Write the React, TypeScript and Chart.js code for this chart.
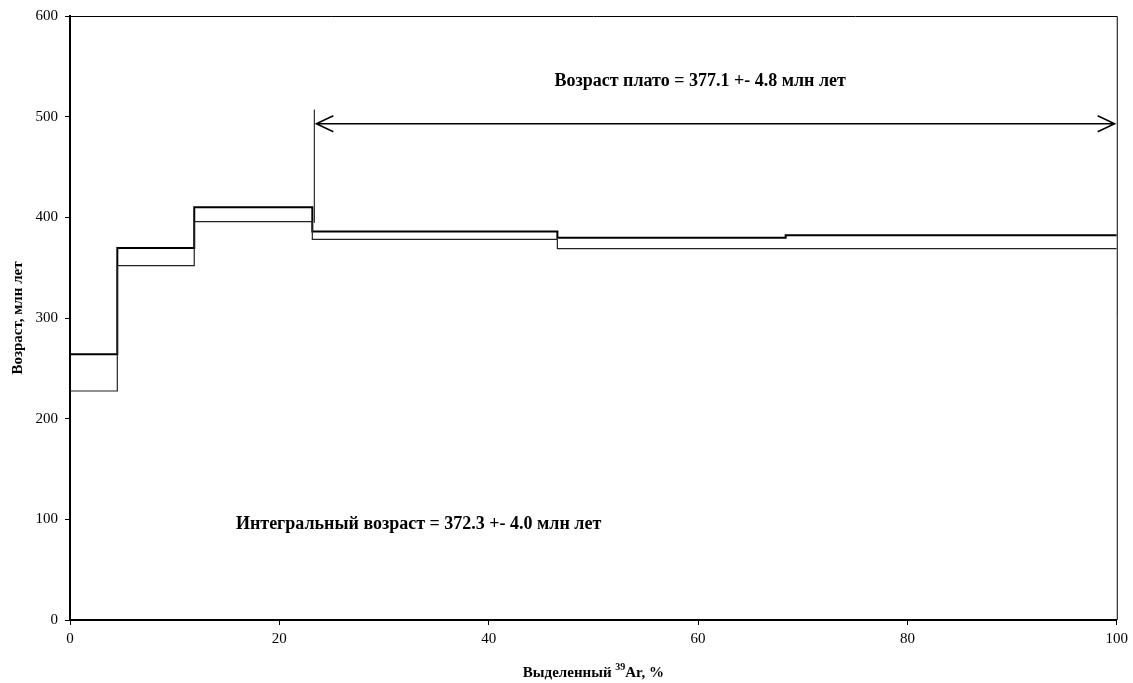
import React, { useEffect, useRef } from "react";
import { Chart, registerables } from "chart.js";

Chart.register(...registerables);

// Step boundaries (cumulative 39Ar released, %)
const stepBounds = [0, 4.52, 11.87, 23.15, 46.56, 68.37, 100];
// Upper (age + error) and lower (age - error) values for each step, Ma
const upperAges = [264, 369.5, 410, 386, 379.8, 382.2];
const lowerAges = [227.5, 352, 395.7, 378.2, 368.9, 368.9];

const xTicks = [0, 20, 40, 60, 80, 100];
const yTicks = [0, 100, 200, 300, 400, 500, 600];

const plateauText = "Возраст плато = 377.1 +- 4.8 млн лет";
const integralText = "Интегральный возраст = 372.3 +- 4.0 млн лет";
const yTitle = "Возраст, млн лет";
const xTitleA = "Выделенный ";
const xTitleSup = "39";
const xTitleB = "Ar, %";

// plateau marker (data units)
const plateauStart = 23.34;
const plateauEnd = 99.8;
const plateauArrowY = 493;
const plateauLineTop = 507;
const plateauLineBottom = 394.5;
const plateauTextPos = { x: 60.2, y: 535.4 };
const integralTextPos = { x: 33.3, y: 95.4 };

const FONT = "'Liberation Serif', 'Times New Roman', serif";

function stepPoints(vals: number[]) {
  const pts: { x: number; y: number }[] = [];
  for (let i = 0; i < vals.length; i++) {
    pts.push({ x: stepBounds[i], y: vals[i] });
    pts.push({ x: stepBounds[i + 1], y: vals[i] });
  }
  return pts;
}

const decorPlugin = {
  id: "decor",
  afterDatasetsDraw(chart: any) {
    const { ctx, chartArea, scales } = chart;
    const xs = scales.x;
    const ys = scales.y;
    ctx.save();
    // frame (top/right)
    ctx.strokeStyle = "#000";
    ctx.lineWidth = 1;
    ctx.beginPath();
    ctx.moveTo(chartArea.left, chartArea.top + 0.5);
    ctx.lineTo(chartArea.right + 0.5, chartArea.top + 0.5);
    ctx.lineTo(chartArea.right + 0.5, chartArea.bottom);
    ctx.stroke();

    // plateau vertical line
    const vx = xs.getPixelForValue(plateauStart);
    ctx.lineWidth = 1;
    ctx.beginPath();
    ctx.moveTo(vx, ys.getPixelForValue(plateauLineTop));
    ctx.lineTo(vx, ys.getPixelForValue(plateauLineBottom));
    ctx.stroke();

    // double-headed arrow
    const ay = ys.getPixelForValue(plateauArrowY);
    const ax1 = xs.getPixelForValue(plateauStart) + 2;
    const ax2 = xs.getPixelForValue(plateauEnd);
    ctx.lineWidth = 1.5;
    ctx.beginPath();
    ctx.moveTo(ax1, ay);
    ctx.lineTo(ax2, ay);
    ctx.moveTo(ax1 + 17, ay - 8);
    ctx.lineTo(ax1, ay);
    ctx.lineTo(ax1 + 17, ay + 8);
    ctx.moveTo(ax2 - 17, ay - 8);
    ctx.lineTo(ax2, ay);
    ctx.lineTo(ax2 - 17, ay + 8);
    ctx.stroke();

    // annotations
    ctx.fillStyle = "#000";
    ctx.font = `bold 18px ${FONT}`;
    ctx.textAlign = "center";
    ctx.textBaseline = "middle";
    ctx.fillText(plateauText, xs.getPixelForValue(plateauTextPos.x), ys.getPixelForValue(plateauTextPos.y));
    ctx.fillText(integralText, xs.getPixelForValue(integralTextPos.x), ys.getPixelForValue(integralTextPos.y));

    // y title
    ctx.save();
    ctx.translate(18, (chartArea.top + chartArea.bottom) / 2);
    ctx.rotate(-Math.PI / 2);
    ctx.font = `bold 15px ${FONT}`;
    ctx.fillText(yTitle, 0, 0);
    ctx.restore();

    // x title with superscript
    ctx.font = `bold 15px ${FONT}`;
    const wA = ctx.measureText(xTitleA).width;
    const wB = ctx.measureText(xTitleB).width;
    ctx.font = `bold 10px ${FONT}`;
    const wS = ctx.measureText(xTitleSup).width;
    const total = wA + wS + wB;
    const cx = (chartArea.left + chartArea.right) / 2;
    const ty = 673;
    let sx = cx - total / 2;
    ctx.textAlign = "left";
    ctx.font = `bold 15px ${FONT}`;
    ctx.fillText(xTitleA, sx, ty);
    sx += wA;
    ctx.font = `bold 10px ${FONT}`;
    ctx.fillText(xTitleSup, sx, ty - 6);
    sx += wS;
    ctx.font = `bold 15px ${FONT}`;
    ctx.fillText(xTitleB, sx, ty);
    ctx.restore();
  },
};

export default function App() {
  const ref = useRef<HTMLCanvasElement | null>(null);
  useEffect(() => {
    document.body.style.margin = "0";
    const chart = new Chart(ref.current as HTMLCanvasElement, {
      type: "line",
      data: {
        datasets: [
          {
            label: "lower",
            data: stepPoints(lowerAges),
            borderColor: "#222",
            borderWidth: 1.2,
            pointRadius: 0,
            fill: false,
            tension: 0,
          },
          {
            label: "upper",
            data: stepPoints(upperAges),
            borderColor: "#000",
            borderWidth: 2,
            pointRadius: 0,
            fill: false,
            tension: 0,
          },
        ],
      },
      options: {
        animation: false,
        responsive: false,
        maintainAspectRatio: false,
        layout: { padding: { top: 16, right: 16, left: 0, bottom: 0 } },
        plugins: { legend: { display: false }, tooltip: { enabled: false } },
        scales: {
          x: {
            type: "linear",
            min: 0,
            max: 100,
            afterFit: (s: any) => {
              s.height = 63;
            },
            afterBuildTicks: (s: any) => {
              s.ticks = xTicks.map((v) => ({ value: v }));
            },
            grid: { display: true, drawOnChartArea: false, drawTicks: true, tickLength: 5, color: "#000", tickColor: "#000" },
            border: { display: true, color: "#000", width: 2 },
            ticks: { color: "#000", font: { family: FONT, size: 15 }, padding: 5, maxRotation: 0 },
          },
          y: {
            type: "linear",
            min: 0,
            max: 600,
            afterFit: (s: any) => {
              s.width = 70;
            },
            afterBuildTicks: (s: any) => {
              s.ticks = yTicks.map((v) => ({ value: v }));
            },
            grid: { display: true, drawOnChartArea: false, drawTicks: true, tickLength: 5, color: "#000", tickColor: "#000" },
            border: { display: true, color: "#000", width: 2 },
            ticks: { color: "#000", font: { family: FONT, size: 15 }, padding: 7 },
          },
        },
      },
      plugins: [decorPlugin],
    } as any);
    return () => chart.destroy();
  }, []);
  return (
    <div style={{ width: 1133, height: 683, background: "#fff" }}>
      <canvas ref={ref} width={1133} height={683} style={{ display: "block" }} />
    </div>
  );
}
